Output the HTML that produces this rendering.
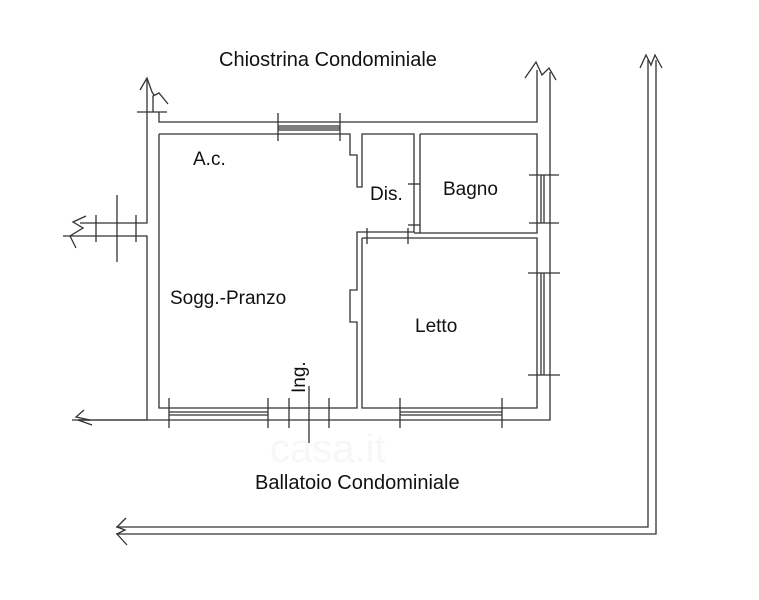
<!DOCTYPE html>
<html><head><style>
body{margin:0;background:#fff;width:759px;height:600px;overflow:hidden}
svg{position:absolute;left:0;top:0}
text{font-family:"Liberation Sans",sans-serif;fill:#111}
</style></head><body>
<svg width="759" height="600" viewBox="0 0 759 600">
<g stroke="#333" stroke-width="1.3" fill="none">
<polyline points="147,78 147,223 80,223"/>
<polyline points="63,236 147,236 147,420 78,420"/>
<polyline points="159,112 159,122 537,122 537,70"/>
<polyline points="550,72 550,420 78,420"/>
<polyline points="140,90 147,78 152,92 154,95"/>
<polyline points="153,112 153,96 159,93 168,104"/>
<polyline points="137,112 167,112"/>
<polyline points="86,216 73,222 83,228 70,236 76,248"/>
<polyline points="84,410 76,417 90,420 72,420"/>
<polyline points="78,420 92,425"/>
<polyline points="525,78 536,62 542,75 549,68 556,80"/>
<polyline points="159,134 350,134 350,155 357,155 357,187 362,187 362,134 414,134 414,232 357,232 357,290 350,290 350,322 357,322 357,408 159,408 159,134"/>
<polyline points="420,134 537,134 537,233 420,233 420,134"/>
<polyline points="362,238 537,238 537,408 362,408 362,238"/>
<polyline points="420,233 414,233"/>
<line x1="278" y1="113" x2="278" y2="141"/><line x1="340" y1="113" x2="340" y2="141"/>
<line x1="278" y1="126" x2="340" y2="126"/><line x1="278" y1="128" x2="340" y2="128"/><line x1="278" y1="130" x2="340" y2="130"/>
<line x1="169" y1="398" x2="169" y2="428"/><line x1="268" y1="398" x2="268" y2="428"/>
<line x1="289" y1="398" x2="289" y2="428"/><line x1="329" y1="398" x2="329" y2="428"/>
<line x1="309" y1="386" x2="309" y2="443"/>
<line x1="169" y1="412" x2="268" y2="412"/><line x1="169" y1="415" x2="268" y2="415"/>
<line x1="400" y1="398" x2="400" y2="428"/><line x1="502" y1="398" x2="502" y2="428"/>
<line x1="400" y1="412" x2="502" y2="412"/><line x1="400" y1="415" x2="502" y2="415"/>
<line x1="528" y1="273" x2="560" y2="273"/><line x1="528" y1="375" x2="560" y2="375"/>
<line x1="541" y1="273" x2="541" y2="375"/><line x1="544" y1="273" x2="544" y2="375"/>
<line x1="529" y1="175" x2="559" y2="175"/><line x1="529" y1="223" x2="559" y2="223"/>
<line x1="541" y1="175" x2="541" y2="223"/><line x1="544" y1="175" x2="544" y2="223"/>
<line x1="96" y1="215" x2="96" y2="242"/><line x1="136" y1="215" x2="136" y2="242"/>
<line x1="117" y1="195" x2="117" y2="262"/>
<line x1="408" y1="184" x2="420" y2="184"/><line x1="408" y1="225" x2="420" y2="225"/>
<line x1="367" y1="228" x2="367" y2="244"/><line x1="408" y1="228" x2="408" y2="244"/>
<polyline points="648,60 648,527 116,527"/>
<polyline points="656,60 656,534 116,534"/>
<polyline points="640,68 646,55 651,65 655,55 662,68"/>
<polyline points="126,518 117,527 125,530 117,534 127,545"/>
</g>
<text x="219" y="66" font-size="20">Chiostrina Condominiale</text>
<text x="255" y="489" font-size="20">Ballatoio Condominiale</text>
<text x="193" y="165" font-size="19">A.c.</text>
<text x="370" y="200" font-size="19">Dis.</text>
<text x="443" y="195" font-size="19">Bagno</text>
<text x="170" y="304" font-size="19">Sogg.-Pranzo</text>
<text x="415" y="332" font-size="19">Letto</text>
<text transform="translate(305,393) rotate(-90)" font-size="19">Ing.</text>
<text x="270" y="462" font-size="40" style="fill:#f7f7f7">casa.it</text>
</svg>
</body></html>
